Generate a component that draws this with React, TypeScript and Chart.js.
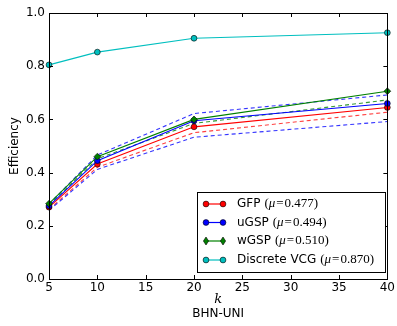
import React, { useEffect, useRef } from "react";
import { Chart, registerables } from "chart.js";

Chart.register(...registerables);

const ks = [5, 10, 20, 40];
const gfp = [0.27, 0.432, 0.572, 0.645];
const ugsp = [0.275, 0.445, 0.595, 0.66];
const wgsp = [0.283, 0.46, 0.6, 0.706];
const vcg = [0.805, 0.853, 0.905, 0.926];
const ugspUpper = [0.282, 0.466, 0.622, 0.692];
const ugspLower = [0.258, 0.412, 0.533, 0.592];
const wgspLower = [0.278, 0.452, 0.585, 0.673];
const gfpLower = [0.262, 0.42, 0.55, 0.627];
const yTicks = [0, 0.2, 0.4, 0.6, 0.8, 1.0];
const xTicks = [5, 10, 15, 20, 25, 30, 35, 40];
const legendNames = ["GFP", "uGSP", "wGSP", "Discrete VCG"];
const legendMus = ["0.477", "0.494", "0.510", "0.870"];

const RED = "#ff0000";
const BLUE = "#0000ff";
const GREEN = "#008000";
const CYAN = "#00bfbf";
const legendColors = [RED, BLUE, GREEN, CYAN];
const legendMarkers = ["circle", "circle", "rectRot", "circle"];

const pts = (vals: number[]) => ks.map((k, i) => ({ x: k, y: vals[i] }));

function drawMarker(ctx: CanvasRenderingContext2D, style: string, x: number, y: number, color: string) {
  ctx.save();
  ctx.fillStyle = color;
  ctx.strokeStyle = "#000";
  ctx.lineWidth = 0.6;
  ctx.beginPath();
  if (style === "rectRot") {
    ctx.moveTo(x, y - 4);
    ctx.lineTo(x + 2.6, y);
    ctx.lineTo(x, y + 4);
    ctx.lineTo(x - 2.6, y);
    ctx.closePath();
  } else {
    ctx.arc(x, y, 2.9, 0, Math.PI * 2);
  }
  ctx.fill();
  ctx.stroke();
  ctx.restore();
}

const framePlugin = {
  id: "frame",
  afterDatasetsDraw(chart: any) {
    const { ctx, chartArea: a, scales } = chart;
    const xs = scales.x;
    const ys = scales.y;
    ctx.save();
    ctx.strokeStyle = "#000";
    ctx.lineWidth = 1;
    ctx.strokeRect(Math.round(a.left) + 0.5, Math.round(a.top) + 0.5, Math.round(a.right - a.left), Math.round(a.bottom - a.top));
    ctx.beginPath();
    xTicks.forEach((t) => {
      const px = Math.round(xs.getPixelForValue(t)) + 0.5;
      ctx.moveTo(px, a.bottom);
      ctx.lineTo(px, a.bottom - 4);
      ctx.moveTo(px, a.top);
      ctx.lineTo(px, a.top + 4);
    });
    yTicks.forEach((t) => {
      const py = Math.round(ys.getPixelForValue(t)) + 0.5;
      ctx.moveTo(a.left, py);
      ctx.lineTo(a.left + 4, py);
      ctx.moveTo(a.right, py);
      ctx.lineTo(a.right - 4, py);
    });
    ctx.stroke();

    // axis titles
    ctx.fillStyle = "#000";
    ctx.textAlign = "center";
    ctx.textBaseline = "middle";
    const cx = (a.left + a.right) / 2;
    ctx.font = "italic 13px 'DejaVu Serif'";
    ctx.fillText("k", cx, 300);
    ctx.font = "12px 'DejaVu Sans'";
    ctx.fillText("BHN-UNI", cx, 314);
    ctx.save();
    ctx.translate(15, (a.top + a.bottom) / 2);
    ctx.rotate(-Math.PI / 2);
    ctx.fillText("Efficiency", 0, 0);
    ctx.restore();

    // legend
    const lx = 197, ly = 192, lw = 188, lh = 80;
    ctx.fillStyle = "#fff";
    ctx.fillRect(lx, ly, lw, lh);
    ctx.strokeStyle = "#000";
    ctx.lineWidth = 1;
    ctx.strokeRect(lx + 0.5, ly + 0.5, lw, lh);
    const rowY = [204, 222.5, 241, 260];
    legendNames.forEach((name, i) => {
      const y = rowY[i];
      ctx.strokeStyle = legendColors[i];
      ctx.lineWidth = 1.2;
      ctx.beginPath();
      ctx.moveTo(206, y);
      ctx.lineTo(223, y);
      ctx.stroke();
      drawMarker(ctx, legendMarkers[i], 206, y, legendColors[i]);
      drawMarker(ctx, legendMarkers[i], 223, y, legendColors[i]);
      ctx.fillStyle = "#000";
      ctx.textAlign = "left";
      ctx.textBaseline = "middle";
      ctx.font = "12px 'DejaVu Sans'";
      let x = 237;
      ctx.fillText(name, x, y);
      x += ctx.measureText(name).width + 4;
      ctx.font = "13px 'Liberation Serif'";
      ctx.fillText("(", x, y);
      x += ctx.measureText("(").width;
      ctx.font = "italic 13px 'Liberation Serif'";
      ctx.fillText("\u03bc", x, y);
      x += ctx.measureText("\u03bc").width + 1;
      ctx.font = "13px 'Liberation Serif'";
      ctx.fillText("=", x, y);
      x += ctx.measureText("=").width + 1;
      const rest = legendMus[i] + ")";
      ctx.fillText(rest, x, y);
    });
    ctx.restore();
  },
};

export default function App() {
  const ref = useRef<HTMLCanvasElement>(null);
  useEffect(() => {
    if (!ref.current) return;
    const solid = (label: string, vals: number[], color: string, style: string, order: number) => ({
      label,
      data: pts(vals),
      borderColor: color,
      backgroundColor: color,
      borderWidth: 1.1,
      pointStyle: style,
      pointRadius: style === "rectRot" ? 3.4 : 2.9,
      pointBorderColor: "#000",
      pointBorderWidth: 0.6,
      pointBackgroundColor: color,
      clip: false,
      order,
    });
    const dashed = (label: string, vals: number[], color: string, order: number) => ({
      label,
      data: pts(vals),
      borderColor: color,
      borderWidth: 1.1,
      borderDash: [4, 3],
      pointRadius: 0,
      clip: false,
      order,
    });
    const chart = new Chart(ref.current, {
      type: "line",
      data: {
        datasets: [
          solid("VCG", vcg, CYAN, "circle", 1),
          solid("wGSP", wgsp, GREEN, "rectRot", 2),
          solid("uGSP", ugsp, BLUE, "circle", 3),
          solid("GFP", gfp, RED, "circle", 4),
          dashed("uU", ugspUpper, "rgba(0,0,255,0.8)", 5),
          dashed("uL", ugspLower, "rgba(0,0,255,0.8)", 6),
          dashed("wL", wgspLower, "rgba(0,128,0,0.8)", 7),
          dashed("gL", gfpLower, "rgba(255,0,0,0.75)", 8),
        ] as any,
      },
      options: {
        responsive: false,
        animation: false,
        layout: { padding: { top: 13, right: 7, left: 0, bottom: 0 } },
        plugins: { legend: { display: false }, tooltip: { enabled: false } },
        scales: {
          x: {
            type: "linear",
            min: 5,
            max: 40,
            grid: { display: false, drawTicks: false },
            border: { display: false },
            afterBuildTicks: (s: any) => {
              s.ticks = xTicks.map((v) => ({ value: v }));
            },
            afterFit: (s: any) => {
              s.height = 47;
            },
            ticks: {
              padding: 2,
              maxRotation: 0,
              autoSkip: false,
              color: "#000",
              font: { family: "'DejaVu Sans'", size: 12 },
              callback: (v: any) => String(v),
            },
          },
          y: {
            type: "linear",
            min: 0,
            max: 1,
            grid: { display: false, drawTicks: false },
            border: { display: false },
            afterBuildTicks: (s: any) => {
              s.ticks = yTicks.map((v) => ({ value: v }));
            },
            afterFit: (s: any) => {
              s.width = 49;
            },
            ticks: {
              padding: 4,
              color: "#000",
              font: { family: "'DejaVu Sans'", size: 12 },
              callback: (v: any) => Number(v).toFixed(1),
            },
          },
        },
      },
      plugins: [framePlugin],
    });
    return () => chart.destroy();
  }, []);
  return (
    <div style={{ position: "absolute", left: 0, top: 0, width: 397, height: 326, background: "#fff" }}>
      <canvas ref={ref} width={397} height={326} />
    </div>
  );
}
